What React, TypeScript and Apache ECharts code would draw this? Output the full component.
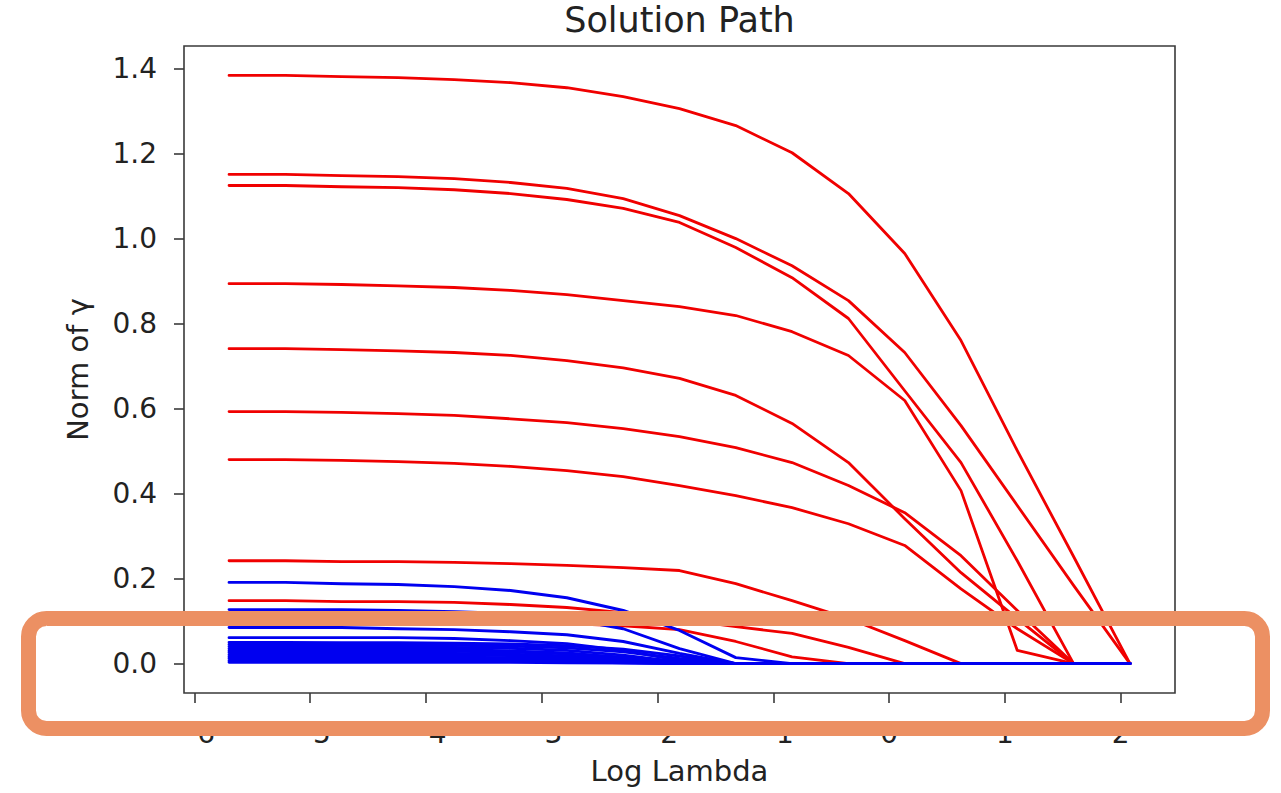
import React, { useEffect, useRef } from "react";
import * as echarts from "echarts";

// Log-lambda grid (17 points)
const logLambda = [-5.7, -5.214, -4.728, -4.241, -3.755, -3.269, -2.783, -2.296, -1.81, -1.324, -0.838, -0.351, 0.135, 0.621, 1.107, 1.593, 2.08];

// Red coefficient paths (norm of gamma)
const red1 = [1.384, 1.384, 1.381, 1.379, 1.374, 1.367, 1.355, 1.334, 1.306, 1.266, 1.202, 1.106, 0.965, 0.76, 0.501, 0.252, 0];
const red2 = [1.151, 1.151, 1.148, 1.146, 1.141, 1.132, 1.118, 1.094, 1.054, 1.0, 0.936, 0.854, 0.732, 0.56, 0.372, 0.184, 0];
const red3 = [1.125, 1.125, 1.122, 1.12, 1.115, 1.106, 1.092, 1.071, 1.038, 0.979, 0.908, 0.812, 0.642, 0.473, 0.242, 0, 0];
const red4 = [0.894, 0.894, 0.892, 0.889, 0.885, 0.878, 0.868, 0.854, 0.84, 0.819, 0.781, 0.725, 0.619, 0.407, 0.031, 0, 0];
const red5 = [0.741, 0.741, 0.739, 0.736, 0.732, 0.725, 0.713, 0.696, 0.671, 0.631, 0.565, 0.473, 0.341, 0.214, 0.106, 0, 0];
const red6 = [0.593, 0.593, 0.591, 0.588, 0.584, 0.576, 0.567, 0.553, 0.534, 0.508, 0.473, 0.419, 0.355, 0.254, 0.125, 0, 0];
const red7 = [0.48, 0.48, 0.478, 0.475, 0.471, 0.464, 0.454, 0.44, 0.419, 0.395, 0.367, 0.329, 0.278, 0.176, 0.082, 0, 0];
const red8 = [0.242, 0.242, 0.24, 0.24, 0.238, 0.235, 0.231, 0.226, 0.219, 0.188, 0.148, 0.106, 0.054, 0, 0, 0, 0];
const red9 = [0.148, 0.148, 0.146, 0.146, 0.144, 0.139, 0.132, 0.12, 0.104, 0.087, 0.071, 0.038, 0, 0, 0, 0, 0];
const red10 = [0.099, 0.099, 0.099, 0.099, 0.096, 0.096, 0.094, 0.089, 0.08, 0.052, 0.016, 0, 0, 0, 0, 0, 0];

// Blue coefficient paths
const blue1 = [0.191, 0.191, 0.188, 0.186, 0.181, 0.172, 0.155, 0.125, 0.078, 0.014, 0, 0, 0, 0, 0, 0, 0];
const blue2 = [0.127, 0.127, 0.127, 0.125, 0.122, 0.118, 0.106, 0.082, 0.035, 0, 0, 0, 0, 0, 0, 0, 0];
const blue3 = [0.085, 0.085, 0.085, 0.082, 0.08, 0.075, 0.068, 0.052, 0.024, 0, 0, 0, 0, 0, 0, 0, 0];
const blue4 = [0.061, 0.061, 0.061, 0.061, 0.059, 0.054, 0.047, 0.031, 0.007, 0, 0, 0, 0, 0, 0, 0, 0];
const blue5 = [0.05, 0.05, 0.049, 0.049, 0.048, 0.046, 0.042, 0.034, 0.018, 0, 0, 0, 0, 0, 0, 0, 0];
const blue6 = [0.045, 0.045, 0.045, 0.044, 0.043, 0.041, 0.037, 0.028, 0.012, 0, 0, 0, 0, 0, 0, 0, 0];
const blue7 = [0.04, 0.04, 0.04, 0.039, 0.038, 0.036, 0.031, 0.02, 0.004, 0, 0, 0, 0, 0, 0, 0, 0];
const blue8 = [0.035, 0.035, 0.035, 0.034, 0.033, 0.03, 0.025, 0.014, 0, 0, 0, 0, 0, 0, 0, 0, 0];
const blue9 = [0.03, 0.03, 0.03, 0.03, 0.029, 0.027, 0.023, 0.015, 0.005, 0, 0, 0, 0, 0, 0, 0, 0];
const blue10 = [0.026, 0.026, 0.026, 0.025, 0.024, 0.022, 0.018, 0.01, 0, 0, 0, 0, 0, 0, 0, 0, 0];
const blue11 = [0.021, 0.021, 0.021, 0.021, 0.02, 0.019, 0.016, 0.009, 0, 0, 0, 0, 0, 0, 0, 0, 0];
const blue12 = [0.016, 0.016, 0.016, 0.016, 0.015, 0.014, 0.012, 0.006, 0, 0, 0, 0, 0, 0, 0, 0, 0];
const blue13 = [0.012, 0.012, 0.012, 0.011, 0.011, 0.01, 0.008, 0.003, 0, 0, 0, 0, 0, 0, 0, 0, 0];
const blue14 = [0.007, 0.007, 0.007, 0.007, 0.007, 0.006, 0.005, 0.002, 0, 0, 0, 0, 0, 0, 0, 0, 0];
const blue15 = [0.003, 0.003, 0.003, 0.003, 0.003, 0.003, 0.002, 0.001, 0, 0, 0, 0, 0, 0, 0, 0, 0];

const redPaths = [red1, red2, red3, red4, red5, red6, red7, red8, red9, red10];
const bluePaths = [blue1, blue2, blue3, blue4, blue5, blue6, blue7, blue8, blue9, blue10, blue11, blue12, blue13, blue14, blue15];

const xTicks = [-6, -5, -4, -3, -2, -1, 0, 1, 2];
const yTicks = [0, 0.2, 0.4, 0.6, 0.8, 1.0, 1.2, 1.4];

const titleText = "Solution Path";
const xLabel = "Log Lambda";
const yLabel = "Norm of \u03b3";

const FONT = "DejaVu Sans";
const TEXT = "#222";

export default function App() {
  const ref = useRef<HTMLDivElement>(null);
  useEffect(() => {
    const chart = echarts.init(ref.current as HTMLDivElement, null, { renderer: "svg" });
    const mk = (vals: number[], color: string, name: string, width: number) => ({
      type: "line",
      name,
      data: logLambda.map((x, i) => [x, vals[i]]),
      symbol: "none",
      showSymbol: false,
      smooth: false,
      silent: true,
      lineStyle: { color, width, join: "round", cap: "round" },
      itemStyle: { color },
    });
    const series: any[] = [];
    redPaths.forEach((p, i) => series.push(mk(p, "#f00000", "r" + i, 2.8)));
    bluePaths.forEach((p, i) => series.push(mk(p, "#0000f0", "b" + i, 2.9)));

    chart.setOption({
      animation: false,
      backgroundColor: "#fff",
      grid: {
        left: 184,
        top: 46,
        width: 991,
        height: 647,
        show: true,
        borderColor: "#3a3a3a",
        borderWidth: 1.6,
        backgroundColor: "transparent",
      },
      xAxis: {
        type: "value",
        min: -6.089,
        max: 2.469,
        position: "bottom",
        axisLine: { show: false, onZero: false },
        splitLine: { show: false },
        axisTick: {
          show: true,
          customValues: xTicks,
          length: 10,
          lineStyle: { color: "#3a3a3a", width: 1.6 },
        },
        axisLabel: {
          customValues: xTicks,
          margin: 26,
          fontSize: 28,
          fontFamily: FONT,
          color: TEXT,
          formatter: (v: number) => (v < 0 ? "\u2212" + Math.abs(v) : String(v)),
        },
      },
      yAxis: {
        type: "value",
        min: -0.0692,
        max: 1.4532,
        position: "left",
        axisLine: { show: false, onZero: false },
        splitLine: { show: false },
        axisTick: {
          show: true,
          customValues: yTicks,
          length: 10,
          lineStyle: { color: "#3a3a3a", width: 1.6 },
        },
        axisLabel: {
          customValues: yTicks,
          margin: 27,
          fontSize: 28,
          fontFamily: FONT,
          color: TEXT,
          formatter: (v: number) => v.toFixed(1),
        },
      },
      series,
      graphic: [
        {
          type: "text",
          x: 679.5,
          y: 20,
          z: 100,
          style: {
            text: titleText,
            fontSize: 35,
            fontFamily: FONT,
            fill: TEXT,
            textAlign: "center",
            textVerticalAlign: "middle",
          },
        },
        {
          type: "text",
          x: 679.5,
          y: 771,
          z: 100,
          style: {
            text: xLabel,
            fontSize: 29,
            fontFamily: FONT,
            fill: TEXT,
            textAlign: "center",
            textVerticalAlign: "middle",
          },
        },
        {
          type: "text",
          x: 78,
          y: 369.5,
          rotation: Math.PI / 2,
          z: 100,
          style: {
            text: yLabel,
            fontSize: 29,
            fontFamily: FONT,
            fill: TEXT,
            textAlign: "center",
            textVerticalAlign: "middle",
          },
        },
        {
          type: "rect",
          z: 200,
          shape: { x: 28.5, y: 618.5, width: 1234, height: 110, r: 18 },
          style: { fill: "none", stroke: "#EC9063", lineWidth: 15 },
        },
      ],
    });
    return () => chart.dispose();
  }, []);
  return (
    <div
      ref={ref}
      style={{ position: "fixed", left: 0, top: 0, width: 1281, height: 793, background: "#fff" }}
    />
  );
}
